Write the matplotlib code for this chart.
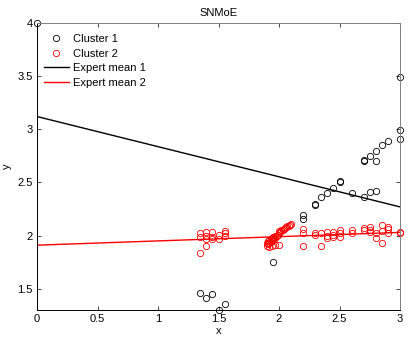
import matplotlib
matplotlib.use("Agg")
from matplotlib import pyplot as plt

plt.rcParams['font.family'] = ['Liberation Sans', 'DejaVu Sans']

# cluster 1 (black)
c1_x = [0.00, 1.35, 1.40, 1.45, 1.50, 1.55, 1.95, 2.20, 2.20, 2.30, 2.30, 2.35, 2.40,
        2.45, 2.50, 2.50, 2.60, 2.70, 2.75, 2.80, 2.70, 2.70, 2.75, 2.80, 2.80, 2.85,
        2.90, 3.00, 3.00, 3.00]
c1_y = [4.00, 1.46, 1.41, 1.45, 1.30, 1.36, 1.75, 2.19, 2.16, 2.29, 2.30, 2.36, 2.40,
        2.45, 2.50, 2.51, 2.40, 2.36, 2.41, 2.42, 2.70, 2.71, 2.75, 2.70, 2.80, 2.85,
        2.89, 2.91, 2.99, 3.49]

# cluster 2 (red)
c2_x = [1.35, 1.35, 1.35, 1.40, 1.40, 1.40, 1.40, 1.45, 1.45, 1.45, 1.50, 1.50, 1.55, 1.55, 1.55,
        1.90, 1.90, 1.91, 1.91, 1.92, 1.92, 1.93, 1.93, 1.94, 1.94, 1.95, 1.95, 1.96, 1.97, 1.97,
        1.98, 1.99, 2.00, 2.00, 2.01, 2.02, 2.03, 2.04, 2.05, 2.06, 2.07, 2.08, 2.09, 2.10,
        1.94, 1.97, 2.00, 1.92,
        2.20, 2.20, 2.20, 2.30, 2.30, 2.35, 2.35, 2.40, 2.40, 2.40, 2.45, 2.45, 2.45,
        2.50, 2.50, 2.50, 2.60, 2.60, 2.70, 2.70, 2.75, 2.75, 2.75, 2.80, 2.80,
        2.85, 2.85, 2.85, 2.90, 2.90, 2.90, 3.00, 3.00]
c2_y = [2.02, 1.99, 1.84, 2.03, 2.00, 1.97, 1.90, 2.03, 1.99, 1.97, 2.01, 1.97, 2.04, 2.02, 2.00,
        1.90, 1.93, 1.92, 1.95, 1.93, 1.96, 1.94, 1.97, 1.95, 1.98, 1.96, 1.99, 1.97, 1.98, 2.00,
        2.00, 2.01, 2.02, 2.04, 2.03, 2.05, 2.05, 2.06, 2.07, 2.08, 2.09, 2.09, 2.10, 2.11,
        1.90, 1.91, 1.91, 1.89,
        2.06, 2.02, 1.90, 2.02, 2.01, 2.02, 1.90, 2.03, 2.00, 1.98, 2.03, 2.01, 1.99,
        2.05, 2.02, 1.99, 2.05, 2.02, 2.07, 2.05, 2.08, 2.05, 2.03, 2.02, 1.98,
        2.10, 2.04, 1.93, 2.08, 2.06, 2.02, 2.03, 2.02]

# expert means (end points)
line_x = [0, 3]
mean1 = [3.12, 2.27]
mean2 = [1.91, 2.03]

xticks = [0, 0.5, 1, 1.5, 2, 2.5, 3]
xtick_labels = ['0', '0.5', '1', '1.5', '2', '2.5', '3']
yticks = [1.5, 2, 2.5, 3, 3.5, 4]
ytick_labels = ['1.5', '2', '2.5', '3', '3.5', '4']

fig = plt.figure(figsize=(4.09, 3.40), dpi=100)
ax = fig.add_axes([37 / 409, 1 - 310 / 340, 363 / 409, 287 / 340])

ax.plot(c1_x, c1_y, 'o', mfc='none', mec='black', ms=4.5, mew=0.6, label='Cluster 1', clip_on=False)
ax.plot(c2_x, c2_y, 'o', mfc='none', mec='red', ms=4.5, mew=0.6, label='Cluster 2', clip_on=False)
ax.plot(line_x, mean1, '-', color='black', lw=1.0, label='Expert mean 1')
ax.plot(line_x, mean2, '-', color='red', lw=1.0, label='Expert mean 2')

ax.set_xlim(0, 3)
ax.set_ylim(1.3, 4)
ax.set_xticks(xticks)
ax.set_xticklabels(xtick_labels)
ax.set_yticks(yticks)
ax.set_yticklabels(ytick_labels)
ax.tick_params(direction='in', top=True, right=True, length=3, width=0.5, labelsize=8, pad=3)
for s in ['top', 'right']:
    ax.spines[s].set_color('#808080')
for s in ['left', 'bottom']:
    ax.spines[s].set_color('black')
for s in ax.spines.values():
    s.set_linewidth(0.7)

ax.set_title('SNMoE', fontsize=8, pad=5)
ax.set_xlabel('x', fontsize=8, labelpad=1)
ax.set_ylabel('y', fontsize=8, labelpad=4)

ax.legend(loc='upper left', frameon=False, fontsize=8, handlelength=2.3,
          handletextpad=0.35, labelspacing=0.42, borderaxespad=0.2,
          bbox_to_anchor=(0.0, 0.985))

fig.savefig('out.png', dpi=100)
